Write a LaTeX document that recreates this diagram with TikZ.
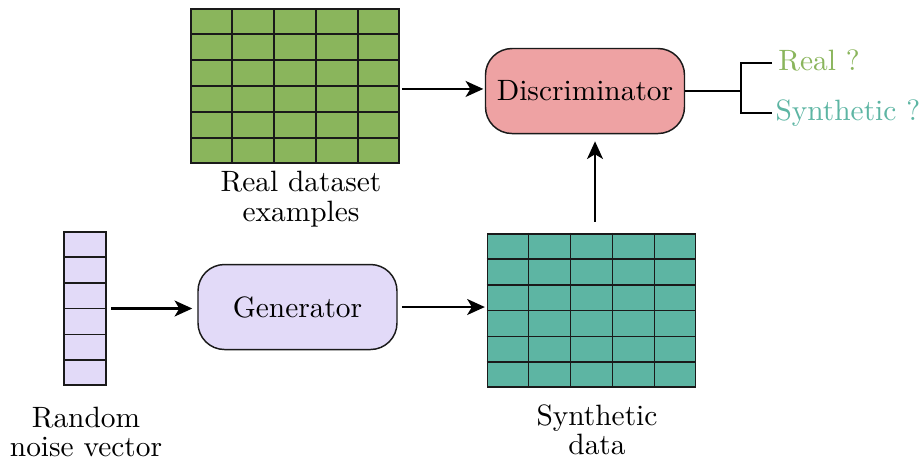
\documentclass[tikz,border=0pt]{standalone}
\usetikzlibrary{calc,arrows.meta}
\definecolor{realgreen}{HTML}{8AB55C}
\definecolor{synthteal}{HTML}{5DB5A3}
\definecolor{discpink}{HTML}{EEA2A3}
\definecolor{genlav}{HTML}{E2DAF8}
\definecolor{linedark}{HTML}{1A1A1A}
\begin{document}
\begin{tikzpicture}[x=0.34pt,y=-0.34pt,
  gridbox/.style={draw=linedark,line width=0.6pt,inner sep=0pt,minimum width=70.72pt,minimum height=52.2pt},
  gridline/.style={draw=linedark,line width=0.6pt},
  roundbox/.style={draw=linedark,line width=0.5pt,rounded corners=9pt,inner sep=0pt,minimum width=67.66pt,minimum height=28.9pt},
  arr/.style={line width=0.8pt,-{Stealth[length=6pt,width=5.4pt,inset=1.6pt]}},
  plainline/.style={line width=0.8pt},
  lbl/.style={align=center,inner sep=0pt,font=\fontsize{10}{10}\selectfont}]
\useasboundingbox (0,0) rectangle (921,459);

% real data grid
\node[gridbox,fill=realgreen] (real) at (295,86) {};
\foreach \i in {1,...,4}
  \draw[gridline] ($(real.north west)!\i/5!(real.north east)$) -- ($(real.south west)!\i/5!(real.south east)$);
\foreach \j in {1,...,5}
  \draw[gridline] ($(real.north west)!\j/6!(real.south west)$) -- ($(real.north east)!\j/6!(real.south east)$);
\node[lbl] (reallbl) at (301,199) {Real dataset\\examples};

% discriminator
\node[roundbox,fill=discpink] (disc) at (585,91) {Discriminator};

% noise vector
\node[gridbox,fill=genlav,minimum width=14.28pt] (noise) at (85,308.5) {};
\foreach \j in {1,...,5}
  \draw[gridline] ($(noise.north west)!\j/6!(noise.south west)$) -- ($(noise.north east)!\j/6!(noise.south east)$);
\node[lbl] (noiselbl) at (86,432) {Random\\noise vector};

% generator
\node[roundbox,fill=genlav] (gen) at (297.5,307) {Generator};

% synthetic grid
\node[gridbox,fill=synthteal] (synth) at (591.5,310.5) {};
\foreach \i in {1,...,4}
  \draw[gridline] ($(synth.north west)!\i/5!(synth.north east)$) -- ($(synth.south west)!\i/5!(synth.south east)$);
\foreach \j in {1,...,5}
  \draw[gridline] ($(synth.north west)!\j/6!(synth.south west)$) -- ($(synth.north east)!\j/6!(synth.south east)$);
\node[lbl] (synthlbl) at (597,430) {Synthetic\\data};

% arrows
\draw[arr,shorten <=0.7pt,shorten >=0.5pt] ([yshift=-1pt]real.east) -- ([yshift=-1pt]real.east -| disc.west);
\draw[arr,shorten <=1.4pt,shorten >=1.7pt] (noise.east) -- (noise.east -| gen.west);
\draw[arr,shorten <=1.4pt,shorten >=0.6pt] (gen.east) -- (gen.east -| synth.west);
\draw[arr,shorten <=3.7pt,shorten >=2.4pt] ([xshift=1.2pt]synth.north) -- ([xshift=1.2pt]synth.north |- disc.south);

% bracket
\coordinate (bj) at (741,91);
\coordinate (rq) at (772,63);
\coordinate (sq) at (772,113);
\draw[plainline] (disc.east) -- (bj);
\draw[plainline] (rq) -| (bj) |- (sq);
\node[anchor=west,inner sep=0pt,text=realgreen] (realq) at ([xshift=2pt,yshift=1pt]rq) {Real ?};
\node[anchor=west,inner sep=0pt,text=synthteal] (synthq) at ([xshift=1pt]sq) {Synthetic ?};
\end{tikzpicture}
\end{document}
